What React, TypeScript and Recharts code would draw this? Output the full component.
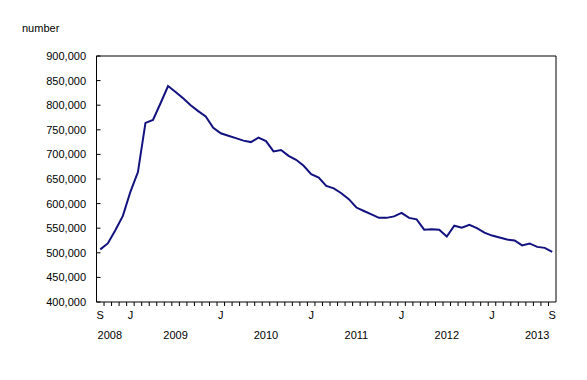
import React from "react";
import { LineChart, Line, XAxis, YAxis, Label } from "recharts";

const months = [
  "2008-09", "2008-10", "2008-11", "2008-12",
  "2009-01", "2009-02", "2009-03", "2009-04", "2009-05", "2009-06", "2009-07", "2009-08", "2009-09", "2009-10", "2009-11", "2009-12",
  "2010-01", "2010-02", "2010-03", "2010-04", "2010-05", "2010-06", "2010-07", "2010-08", "2010-09", "2010-10", "2010-11", "2010-12",
  "2011-01", "2011-02", "2011-03", "2011-04", "2011-05", "2011-06", "2011-07", "2011-08", "2011-09", "2011-10", "2011-11", "2011-12",
  "2012-01", "2012-02", "2012-03", "2012-04", "2012-05", "2012-06", "2012-07", "2012-08", "2012-09", "2012-10", "2012-11", "2012-12",
  "2013-01", "2013-02", "2013-03", "2013-04", "2013-05", "2013-06", "2013-07", "2013-08", "2013-09",
];

const values = [
  507000, 519000, 546000, 575000,
  624000, 664000, 764000, 770000, 804000, 839000, 827000, 814000, 800000, 788000, 777000, 754000,
  743000, 738000, 733000, 728000, 725000, 734000, 727000, 706000, 709000, 697000, 689000, 677000,
  660000, 653000, 636000, 631000, 621000, 609000, 592000, 585000, 578000, 571000, 571000, 574000,
  581000, 571000, 568000, 547000, 548000, 547000, 533000, 555000, 551000, 557000, 550000, 541000,
  535000, 531000, 527000, 525000, 515000, 519000, 512000, 510000, 502000,
];

const monthLabelKeys = ["2008-09", "2009-01", "2010-01", "2011-01", "2012-01", "2013-01", "2013-09"];
const monthLabelTexts = ["S", "J", "J", "J", "J", "J", "S"];

const yearTickMonths = ["2008-10", "2009-07", "2010-07", "2011-07", "2012-07", "2013-07"];
const yearLabels = ["2008", "2009", "2010", "2011", "2012", "2013"];

const yTicks = [400000, 450000, 500000, 550000, 600000, 650000, 700000, 750000, 800000, 850000, 900000];

const data = months.map((m, i) => ({ month: m, value: values[i] }));

const FONT = "'Liberation Sans', Arial, sans-serif";
const W = 587;
const H = 380;
const PLOT_LEFT = 96.5;
const PLOT_RIGHT = 556;
const PLOT_W = PLOT_RIGHT - PLOT_LEFT;
const BW = PLOT_W / months.length;
const LINE_COLOR = "#11117f";

function MonthTick(props: any) {
  const { x, y, payload } = props;
  const i = months.indexOf(payload.value);
  const li = monthLabelKeys.indexOf(payload.value);
  const axisY = y - 9.5;
  return (
    <g>
      {i < months.length - 1 && (
        <line x1={x + BW / 2} x2={x + BW / 2} y1={axisY} y2={axisY + 4} stroke="#000" strokeWidth={1} />
      )}
      {li >= 0 && (
        <text x={x} y={y} dy="0.71em" textAnchor="middle" fontFamily={FONT} fontSize={11} fill="#000">
          {monthLabelTexts[li]}
        </text>
      )}
    </g>
  );
}

function YearTick(props: any) {
  const { x, y, payload } = props;
  const li = yearTickMonths.indexOf(payload.value);
  if (li < 0) return null;
  return (
    <text x={x + (li === 0 ? 2 : 0)} y={y} dy="0.71em" textAnchor="middle" fontFamily={FONT} fontSize={11} fill="#000">
      {yearLabels[li]}
    </text>
  );
}

function YTick(props: any) {
  const { x, y, payload } = props;
  return (
    <g>
      <line x1={x + 10.5} x2={x + 14.5} y1={y} y2={y} stroke="#000" strokeWidth={1} />
      <text x={x} y={y} dy="0.355em" textAnchor="end" fontFamily={FONT} fontSize={11} fill="#000">
        {Number(payload.value).toLocaleString("en-US")}
      </text>
    </g>
  );
}

export default function App() {
  return (
    <div style={{ position: "absolute", left: 0, top: 0, width: W, height: H, background: "#fff" }}>
      <LineChart width={W} height={H} data={data} margin={{ top: 56, right: W - PLOT_RIGHT, bottom: 28, left: 0 }}>
        <XAxis
          xAxisId="main"
          dataKey="month"
          type="category"
          interval={0}
          padding={{ left: BW / 2, right: BW / 2 }}
          tickSize={0}
          tickMargin={9.5}
          height={20}
          tickLine={false}
          axisLine={{ stroke: "#000", strokeWidth: 1 }}
          tick={(p: any) => <MonthTick {...p} />}
        />
        <XAxis
          xAxisId="year"
          dataKey="month"
          type="category"
          ticks={yearTickMonths}
          interval={0}
          padding={{ left: BW / 2, right: BW / 2 }}
          tickSize={0}
          tickMargin={9.5}
          height={30}
          tickLine={false}
          axisLine={false}
          tick={(p: any) => <YearTick {...p} />}
        />
        <YAxis
          width={PLOT_LEFT}
          domain={[400000, 900000]}
          ticks={yTicks}
          interval={0}
          tickSize={0}
          tickMargin={10.5}
          tickLine={false}
          axisLine={{ stroke: "#000", strokeWidth: 1 }}
          tick={(p: any) => <YTick {...p} />}
        >
          <Label
            content={(p: any) => {
              const vb = p.viewBox || { x: 0, y: 56, width: PLOT_LEFT, height: 246 };
              const left = vb.x + vb.width;
              const top = vb.y;
              const bottom = vb.y + vb.height;
              return (
                <g>
                  <text x={vb.x + 22} y={top - 28} dy="0.355em" textAnchor="start" fontFamily={FONT} fontSize={11} fill="#000">
                    number
                  </text>
                  <line x1={left} x2={PLOT_RIGHT} y1={top} y2={top} stroke="#000" strokeWidth={1} />
                  <line x1={PLOT_RIGHT} x2={PLOT_RIGHT} y1={top} y2={bottom} stroke="#000" strokeWidth={1} />
                </g>
              );
            }}
          />
        </YAxis>
        <Line
          xAxisId="main"
          type="linear"
          dataKey="value"
          stroke={LINE_COLOR}
          strokeWidth={2}
          dot={false}
          activeDot={false}
          isAnimationActive={false}
        />
      </LineChart>
    </div>
  );
}
